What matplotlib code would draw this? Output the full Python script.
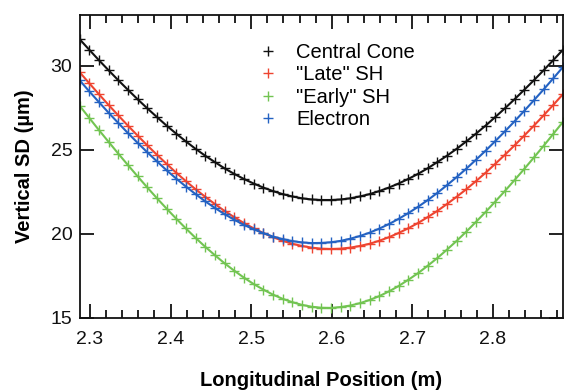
import matplotlib
matplotlib.use("Agg")
import matplotlib.pyplot as plt
from matplotlib.lines import Line2D
from matplotlib.ticker import MultipleLocator, NullLocator

plt.rcParams['font.family'] = ['Liberation Sans', 'DejaVu Sans']

# Longitudinal position (m), marker positions
x_start = 2.287
x_step = 0.012
n_pts = 51
position = [round(x_start + x_step * i, 3) for i in range(n_pts)]

central_cone = [31.57, 30.94, 30.32, 29.72, 29.13, 28.56, 28.00, 27.46, 26.94, 26.43,
                25.95, 25.49, 25.05, 24.64, 24.26, 23.89, 23.56, 23.26, 22.99, 22.75,
                22.54, 22.36, 22.22, 22.11, 22.04, 22.01, 22.01, 22.04, 22.11, 22.22,
                22.36, 22.54, 22.75, 22.99, 23.26, 23.56, 23.89, 24.26, 24.64, 25.05,
                25.49, 25.95, 26.43, 26.94, 27.46, 28.00, 28.56, 29.13, 29.72, 30.32,
                30.94]

late_sh = [29.61, 28.95, 28.30, 27.66, 27.04, 26.43, 25.84, 25.26, 24.70, 24.16,
           23.63, 23.13, 22.65, 22.20, 21.77, 21.36, 20.99, 20.64, 20.33, 20.05,
           19.80, 19.59, 19.41, 19.28, 19.18, 19.12, 19.10, 19.12, 19.18, 19.28,
           19.41, 19.59, 19.80, 20.05, 20.33, 20.64, 20.99, 21.36, 21.77, 22.20,
           22.65, 23.13, 23.63, 24.16, 24.70, 25.26, 25.84, 26.43, 27.04, 27.66,
           28.30]

early_sh = [27.62, 26.89, 26.17, 25.47, 24.77, 24.09, 23.42, 22.76, 22.12, 21.50,
            20.90, 20.32, 19.76, 19.23, 18.73, 18.25, 17.81, 17.40, 17.02, 16.69,
            16.39, 16.14, 15.94, 15.78, 15.67, 15.61, 15.60, 15.65, 15.74, 15.88,
            16.07, 16.30, 16.58, 16.90, 17.27, 17.66, 18.10, 18.56, 19.06, 19.58,
            20.13, 20.71, 21.30, 21.92, 22.55, 23.20, 23.86, 24.54, 25.23, 25.94,
            26.65]

electron = [29.13, 28.47, 27.83, 27.20, 26.59, 25.99, 25.41, 24.85, 24.31, 23.78,
            23.28, 22.81, 22.36, 21.93, 21.54, 21.17, 20.84, 20.53, 20.27, 20.04,
            19.84, 19.69, 19.57, 19.49, 19.45, 19.46, 19.50, 19.58, 19.71, 19.87,
            20.07, 20.31, 20.58, 20.89, 21.23, 21.60, 22.00, 22.43, 22.89, 23.37,
            23.87, 24.40, 24.94, 25.51, 26.09, 26.69, 27.31, 27.94, 28.58, 29.24,
            29.91]

series_labels = ['Central Cone', '"Late" SH', '"Early" SH', 'Electron']
series_values = [central_cone, late_sh, early_sh, electron]
colors = ['#111111', '#ee4430', '#72c452', '#2462c2']

x_ticks = [2.3, 2.4, 2.5, 2.6, 2.7, 2.8]
y_ticks = [15, 20, 25, 30]

fig = plt.figure(figsize=(5.64, 3.91), dpi=100)
ax = fig.add_axes([80 / 564, 1 - 318 / 391, 483 / 564, 303 / 391])

for vals, col in zip(series_values, colors):
    ax.plot(position, vals, color=col, lw=1.5, marker='+', ms=7.5, mew=1.0)

ax.set_xlim(2.2876, 2.887)
ax.set_ylim(15, 33)
ax.set_xticks(x_ticks)
ax.set_xticklabels([f'{t:.1f}' for t in x_ticks])
ax.set_yticks(y_ticks)
ax.xaxis.set_minor_locator(MultipleLocator(0.02))
ax.yaxis.set_minor_locator(NullLocator())

ax.tick_params(axis='both', which='both', direction='in', top=True, right=True,
               labelsize=14, width=1.3, colors='#111111')
ax.tick_params(axis='both', which='major', length=10)
ax.tick_params(axis='x', which='minor', length=5.5)
ax.tick_params(axis='x', which='major', pad=9.5)
ax.tick_params(axis='y', which='major', pad=5.5)

for sp in ax.spines.values():
    sp.set_linewidth(1.3)
    sp.set_color('#111111')

ax.set_xlabel('Longitudinal Position (m)', fontsize=14.5, fontweight='bold')
ax.xaxis.set_label_coords(0.5, -0.175)
ax.set_ylabel('Vertical SD (\u00b5m)', fontsize=14.5, fontweight='bold', labelpad=12)

handles = [Line2D([], [], color=c, marker='+', ls='none', ms=7.5, mew=1.0) for c in colors]
ax.legend(handles, series_labels, loc='upper left', bbox_to_anchor=(0.352, 0.934),
          frameon=False, fontsize=14.5, handlelength=1.0, handletextpad=0.9,
          labelspacing=0.17, borderaxespad=0)

fig.savefig('out.png', dpi=100)
